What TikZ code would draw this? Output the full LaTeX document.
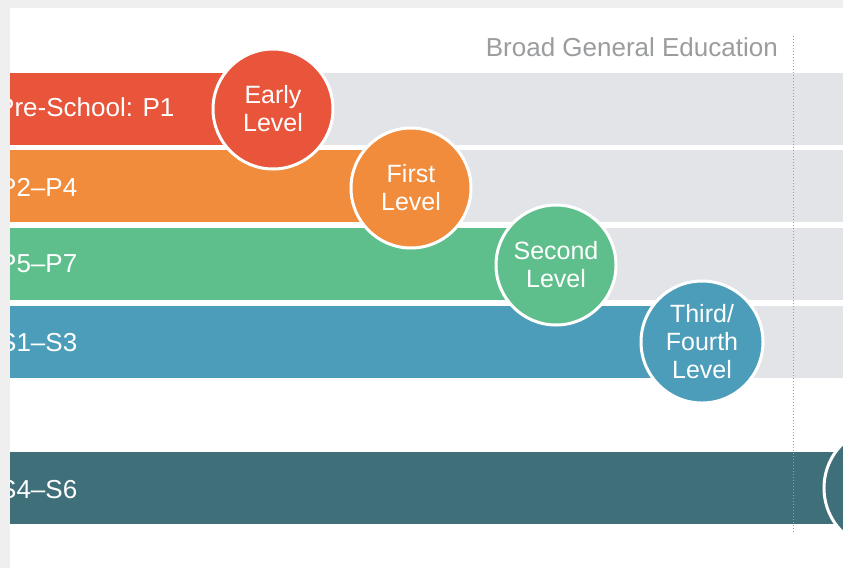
\documentclass[tikz,border=0pt]{standalone}
\usepackage{fontspec}
\setmainfont{Liberation Sans}
\definecolor{bggrey}{HTML}{E2E4E7}
\definecolor{cred}{HTML}{E8553B}
\definecolor{corange}{HTML}{F08C3C}
\definecolor{cgreen}{HTML}{5FBF8C}
\definecolor{cblue}{HTML}{4B9DBA}
\definecolor{cteal}{HTML}{3F6F79}
\definecolor{frame}{HTML}{EFEFEF}
\definecolor{labelgrey}{HTML}{9A9C9E}
\begin{document}
\begin{tikzpicture}[x=1pt,y=-1pt,
  greybar/.style={fill=bggrey,draw=none},
  colbar/.style={draw=none},
  barlabel/.style={anchor=west,text=white,font=\fontsize{26}{26}\selectfont,inner sep=0pt},
  levelcirc/.style={circle,draw=white,line width=3pt,minimum size=120pt,inner sep=0pt,
    text=white,align=center,font=\fontsize{25}{28}\selectfont}]
\useasboundingbox (0,0) rectangle (843,568);
\clip (0,0) rectangle (843,568);
\fill[frame] (0,0) rectangle (843,568);
\fill[white] (10,8) rectangle (843,568);
% grey background bars
\fill[greybar] (10,73) rectangle (843,145);
\fill[greybar] (10,150) rectangle (843,222);
\fill[greybar] (10,228) rectangle (843,300);
\fill[greybar] (10,306) rectangle (843,378);
% coloured bars
\fill[cred] (0,73) rectangle (235,145);
\fill[corange] (0,150) rectangle (370,222);
\fill[cgreen] (0,228) rectangle (515,300);
\fill[cblue] (0,306) rectangle (660,378);
\fill[cteal] (0,452) rectangle (843,524);
% bar labels
\node[barlabel] (l1) at (-3,107) {Pre-School: P1};
\node[barlabel] (l2) at (-1,187) {P2–P4};
\node[barlabel] (l3) at (-1,264) {P5–P7};
\node[barlabel] (l4) at (-1,343) {S1–S3};
\node[barlabel] (l5) at (-1,490) {S4–S6};
% dotted divider
\draw[labelgrey,dotted,line width=1pt] (793,36) -- (793,532);
% level circles
\node[levelcirc,fill=cred] (early) at (273,109) {Early\\Level};
\node[levelcirc,fill=corange] (first) at (411,188) {First\\Level};
\node[levelcirc,fill=cgreen] (second) at (556,265) {Second\\Level};
\node[levelcirc,fill=cblue,minimum size=122pt] (third) at (702,342) {Third/\\Fourth\\Level};
\node[levelcirc,fill=cteal,minimum size=124pt] (senior) at (886,488) {};
% heading
\node[anchor=east,text=labelgrey,font=\fontsize{26}{26}\selectfont,inner sep=0pt] (bge) at (778,47) {Broad General Education};
% left frame strip on top
\fill[frame] (0,0) rectangle (10,568);
\fill[frame] (0,0) rectangle (843,8);
\end{tikzpicture}
\end{document}
